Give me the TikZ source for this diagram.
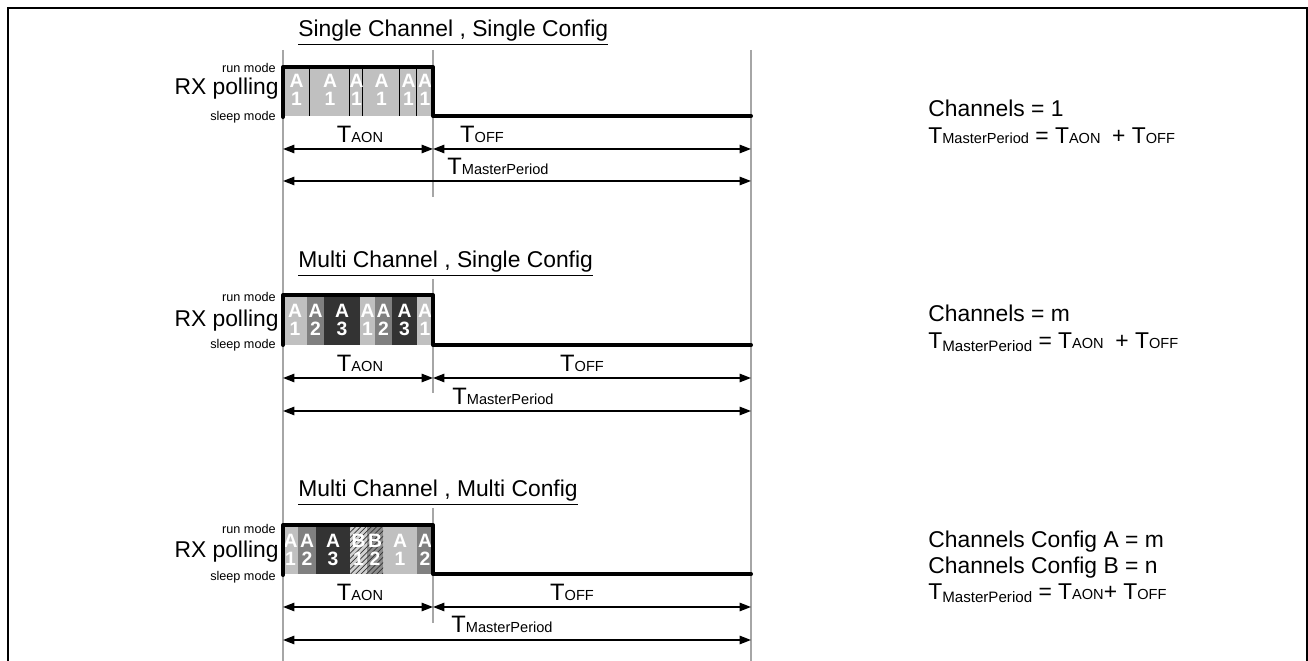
\documentclass[tikz,border=0pt]{standalone}
\usepackage{fontspec}
\setmainfont{Liberation Sans}
\usetikzlibrary{arrows.meta,patterns}
\definecolor{rgrid}{HTML}{A6A6A6}
\definecolor{rchone}{HTML}{C0C0C0}
\definecolor{rchtwo}{HTML}{808080}
\definecolor{rchthree}{HTML}{333333}
\definecolor{rcfgbone}{HTML}{D0D0D0}
\definecolor{rcfgbtwo}{HTML}{8C8C8C}
\newcommand{\tlbl}[1]{T{\fontsize{8.3}{9}\selectfont #1}}
\newcommand{\tlow}[1]{T\raisebox{-1.7pt}{\fontsize{8.6}{9}\selectfont #1}}

\begin{document}
\begin{tikzpicture}[x=0.02cm, y=-0.02cm, >={Triangle[length=6.5pt,width=4.8pt]},
  grid/.style={rgrid, line width=0.6pt},
  signal/.style={line width=2.3pt, line join=round, line cap=round},
  dim/.style={<->, line width=0.85pt},
  dimlbl/.style={anchor=base, inner sep=0pt, font=\fontsize{13.5}{15}\selectfont},
  title/.style={anchor=base west, inner sep=0pt, font=\fontsize{13}{15}\selectfont},
  modelbl/.style={anchor=east, inner sep=0pt, font=\fontsize{7.2}{8}\selectfont},
  rxlbl/.style={anchor=east, inner sep=0pt, font=\fontsize{13}{15}\selectfont},
  chan/.style={white, align=center, inner sep=0pt, font=\fontsize{11}{10.4}\selectfont\bfseries},
  note/.style={anchor=base west, inner sep=0pt, font=\fontsize{13}{15}\selectfont}]
  \useasboundingbox (0,0) rectangle (1308,661);

  % outer frame, open at the bottom
  \draw[line width=1.14pt] (8,661) -- (8,8) -- (1307,8) -- (1307,661);

  % time grid
  \draw[grid] (283,50) -- (283,661);
  \draw[grid] (751,50) -- (751,661);
  \draw[grid] (433,50) -- (433,197);
  \draw[grid] (433,279) -- (433,393);
  \draw[grid] (433,508) -- (433,623);

  % ---- single channel, single config
  \node[title] (t1) at (298,37) {\underline{Single Channel , Single Config}};
  \foreach \xa/\xb [count=\i] in {283/310,310/350,350/363,363/400,400/417,417/433}{
    \fill[rchone] (\xa,67) rectangle (\xb,116);
    \draw[line width=0.6pt] (\xb,67) -- (\xb,116);
    \node[chan] (s\i) at ({(\xa+\xb)/2},90) {A\\1};
  }
  \draw[signal] (283,117) -- (283,67) -- (433,67) -- (433,116) -- (751,116);
  \node[modelbl] (run1) at (276,68) {run mode};
  \node[rxlbl] (rx1) at (279,89) {RX polling};
  \node[modelbl] (slp1) at (276,117) {sleep mode};

  \coordinate (L1) at (283,149);
  \coordinate (M1) at (433,149);
  \coordinate (R1) at (751,149);
  \coordinate (P1) at (283,181);
  \coordinate (Q1) at (751,181);
  \draw[dim] (L1) -- (M1);
  \draw[dim] (M1) -- (R1);
  \draw[dim] (P1) -- (Q1);
  \node[dimlbl] (aon1) at (360,143) {\tlbl{AON}};
  \node[dimlbl] (off1) at (482,143) {\tlbl{OFF}};
  \node[dimlbl] (per1) at (498,175) {\tlbl{MasterPeriod}};

  \node[note] (n1a) at (928,117) {Channels = 1};
  \node[note] (n1b) at (928,144) {\tlbl{MasterPeriod} = \tlbl{AON}\hspace{3pt} + \tlbl{OFF}};

  % ---- multi channel, single config
  \node[title] (t2) at (298,268) {\underline{Multi Channel , Single Config}};
  \foreach \xa/\xb/\col/\dig [count=\i] in {283/307/rchone/1,307/324/rchtwo/2,324/360/rchthree/3,
      360/375/rchone/1,375/392/rchtwo/2,392/417/rchthree/3,417/433/rchone/1}{
    \fill[\col] (\xa,295) rectangle (\xb,345);
    \node[chan] (m\i) at ({(\xa+\xb)/2},320) {A\\\dig};
  }
  \draw[signal] (283,345) -- (283,295) -- (433,295) -- (433,345) -- (751,345);
  \node[modelbl] (run2) at (276,297) {run mode};
  \node[rxlbl] (rx2) at (279,321) {RX polling};
  \node[modelbl] (slp2) at (276,345) {sleep mode};

  \coordinate (L2) at (283,378);
  \coordinate (M2) at (433,378);
  \coordinate (R2) at (751,378);
  \coordinate (P2) at (283,411);
  \coordinate (Q2) at (751,411);
  \draw[dim] (L2) -- (M2);
  \draw[dim] (M2) -- (R2);
  \draw[dim] (P2) -- (Q2);
  \node[dimlbl] (aon2) at (360,372) {\tlbl{AON}};
  \node[dimlbl] (off2) at (582,372) {\tlbl{OFF}};
  \node[dimlbl] (per2) at (503,405) {\tlbl{MasterPeriod}};

  \node[note] (n2a) at (928,322) {Channels = m};
  \node[note] (n2b) at (928,349) {\tlow{MasterPeriod} = \tlbl{AON}\hspace{3pt} + \tlbl{OFF}};

  % ---- multi channel, multi config
  \node[title] (t3) at (298,497) {\underline{Multi Channel , Multi Config}};
  \foreach \xa/\xb/\col [count=\i] in {283/298/rchone,298/316/rchtwo,316/350/rchthree,
      350/367/rcfgbone,367/383/rcfgbtwo,383/417/rchone,417/433/rchtwo}{
    \fill[\col] (\xa,525) rectangle (\xb,574);
  }
  \fill[pattern=north east lines, pattern color=rchthree] (350,525) rectangle (383,574);
  \foreach \xa/\xb/\ltr/\dig [count=\i] in {283/298/A/1,298/316/A/2,316/350/A/3,
      350/367/B/1,367/383/B/2,383/417/A/1,417/433/A/2}{
    \node[chan] (c\i) at ({(\xa+\xb)/2},550) {\ltr\\\dig};
  }
  \draw[signal] (283,575) -- (283,525) -- (433,525) -- (433,574) -- (751,574);
  \node[modelbl] (run3) at (276,529) {run mode};
  \node[rxlbl] (rx3) at (279,552) {RX polling};
  \node[modelbl] (slp3) at (276,577) {sleep mode};

  \coordinate (L3) at (283,607);
  \coordinate (M3) at (433,607);
  \coordinate (R3) at (751,607);
  \coordinate (P3) at (283,640);
  \coordinate (Q3) at (751,640);
  \draw[dim] (L3) -- (M3);
  \draw[dim] (M3) -- (R3);
  \draw[dim] (P3) -- (Q3);
  \node[dimlbl] (aon3) at (360,601) {\tlbl{AON}};
  \node[dimlbl] (off3) at (572,601) {\tlbl{OFF}};
  \node[dimlbl] (per3) at (502,633) {\tlbl{MasterPeriod}};

  \node[note] (n3a) at (928,548) {Channels Config A = m};
  \node[note] (n3b) at (928,574) {Channels Config B = n};
  \node[note] (n3c) at (928,600) {\tlow{MasterPeriod} = \tlbl{AON}+ \tlbl{OFF}};
\end{tikzpicture}
\end{document}
